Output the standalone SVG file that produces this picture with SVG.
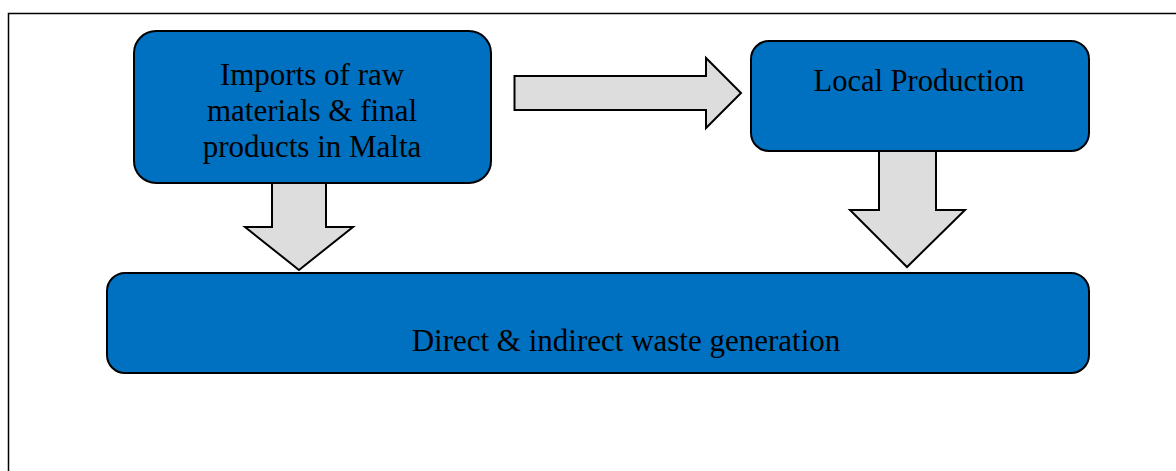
<svg xmlns="http://www.w3.org/2000/svg" width="1176" height="471" viewBox="0 0 1176 471">
<style>
.box{fill:#0070C0;stroke:#000;stroke-width:2}
.arrow{fill:#DDDDDD;stroke:#000;stroke-width:2;stroke-linejoin:miter}
.t{font-family:"Liberation Serif","Times New Roman",serif;font-size:31px;fill:#000;text-anchor:middle}
.frame{fill:none;stroke:#000;stroke-width:1.5}
</style>
<rect x="0" y="0" width="1176" height="471" fill="#fff"/>
<path class="frame" d="M1176,13.5 H8.5 V471"/>
<g id="connectors">
<path class="arrow" d="M514.5,76 H706 V58 L741,93 L706,128 V110 H514.5 Z"/>
<path class="arrow" d="M272,183 V227 H245 L299,270 L353,227 H326 V183"/>
<path class="arrow" d="M879,151 V210 H850 L907,267 L965,210 H936 V151"/>
</g>
<g id="imports">
<rect class="box" x="134" y="31" width="357" height="152" rx="22"/>
<text class="t" x="312" y="85">Imports of raw</text>
<text class="t" x="312" y="121">materials &amp; final</text>
<text class="t" x="312" y="157">products in Malta</text>
</g>
<g id="local">
<rect class="box" x="751" y="41" width="338" height="110" rx="18"/>
<text class="t" x="919" y="91" style="font-size:30.5px">Local Production</text>
</g>
<g id="waste">
<rect class="box" x="107" y="273" width="982" height="100" rx="18"/>
<text class="t" x="626" y="351">Direct &amp; indirect waste generation</text>
</g>
</svg>
